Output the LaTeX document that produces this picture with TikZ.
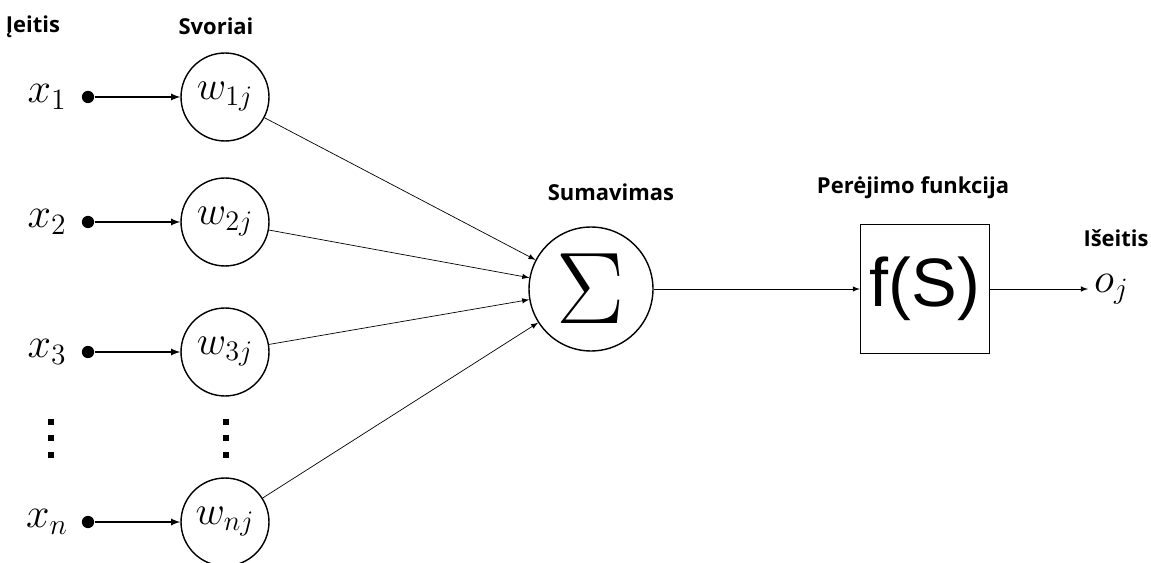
\documentclass[tikz,border=0pt]{standalone}
\usepackage{fix-cm}
\usepackage{fontspec}
\setmainfont{Open Sans}
\newfontfamily\arialf{Liberation Sans}
\usetikzlibrary{positioning}

\begin{document}
\begin{tikzpicture}
 [x=0.02cm, y=-0.02cm,
  weight node/.style={circle,draw,thick,minimum size=1.76cm,inner sep=0pt,font=\fontsize{23}{25}\selectfont},
  sum node/.style={circle,draw,thick,minimum size=2.48cm,inner sep=0pt,font=\fontsize{58}{60}\selectfont},
  func node/.style={rectangle,draw,thick,minimum size=2.58cm,inner sep=0pt,font=\arialf\fontsize{39}{41}\selectfont},
  input node/.style={font=\fontsize{24}{26}\selectfont},
  dot node/.style={circle,fill=black,inner sep=0pt,minimum size=7pt},
  title node/.style={font=\bfseries\fontsize{12.5}{14}\selectfont},
  >=latex]

 \useasboundingbox (0,0) rectangle (1151,563);

 % inputs
 \node[input node] (x1) at (47,97) {$x_1$};
 \node[input node] (x2) at (47,222) {$x_2$};
 \node[input node] (x3) at (47,352) {$x_3$};
 \node[input node] (xn) at (47,522) {$x_n$};

 \node[dot node] (d1) at (88,97) {};
 \node[dot node] (d2) at (88,222) {};
 \node[dot node] (d3) at (88,352) {};
 \node[dot node] (dn) at (88,522) {};

 % weights
 \node[weight node] (w1) at (225,97) {$w_{1j}$};
 \node[weight node] (w2) at (225,222) {$w_{2j}$};
 \node[weight node] (w3) at (225,352) {$w_{3j}$};
 \node[weight node] (wn) at (225,522) {$w_{nj}$};

 % vertical dots
 \foreach \cx in {51,226}
  \foreach \cy in {422,438,455}
   \fill (\cx-3,\cy-3) rectangle (\cx+3,\cy+3);

 % sum, function, output
 \node[sum node] (s) at (591,289) {$\Sigma$};
 \node[func node] (f) at (925,289) {f(S)};
 \node[input node, anchor=west] (o) at (1088,289) {$o_j$};

 % titles
 \node[title node] at (33,27) {Įeitis};
 \node[title node] at (216,26) {Svoriai};
 \node[title node] at (611,192) {Sumavimas};
 \node[title node] at (913,188) {Perėjimo funkcija};
 \node[title node] at (1116,238) {Išeitis};

 \path
  (d1) edge [->, thick] (w1)
  (d2) edge [->, thick] (w2)
  (d3) edge [->, thick] (w3)
  (dn) edge [->, thick] (wn)

  (w1) edge [->] (s)
  (w2) edge [->] (s)
  (w3) edge [->] (s)
  (wn) edge [->] (s)

  (s) edge [->] (f)
  (f) edge [->] (o.west);

\end{tikzpicture}
\end{document}
